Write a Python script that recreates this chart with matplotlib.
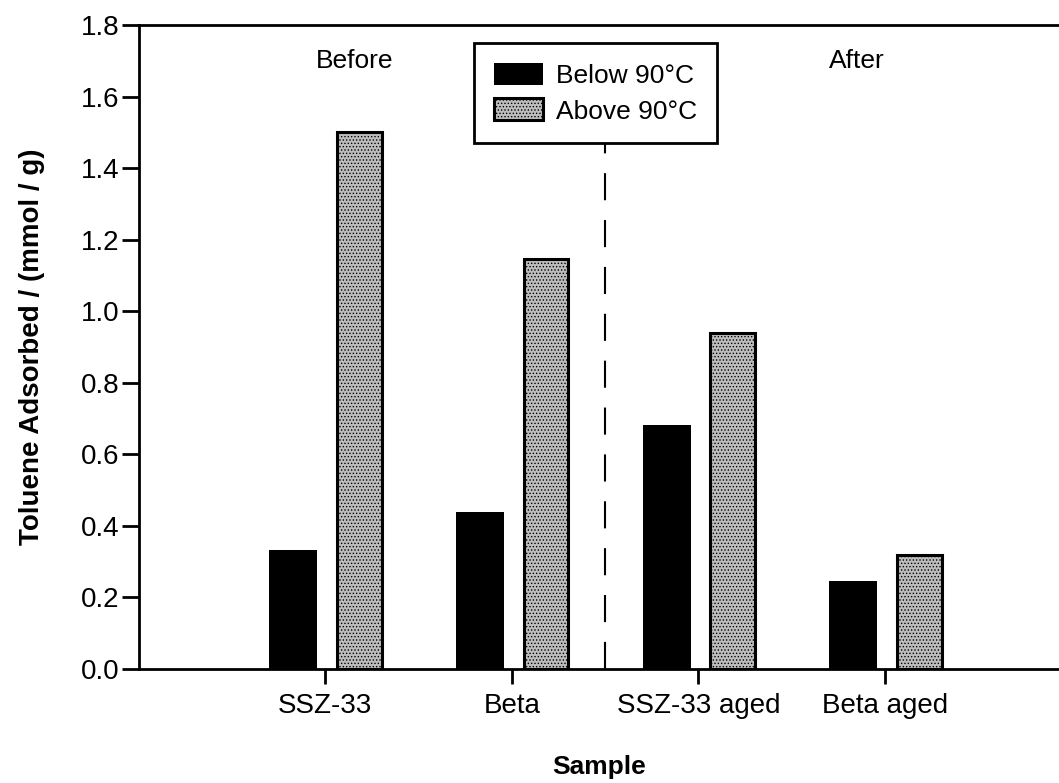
import numpy as np
import matplotlib.pyplot as plt

samples = ["SSZ-33", "Beta", "SSZ-33 aged", "Beta aged"]
below_90 = [0.333, 0.44, 0.682, 0.246]
above_90 = [1.50, 1.145, 0.939, 0.319]
yticks = [0.0, 0.2, 0.4, 0.6, 0.8, 1.0, 1.2, 1.4, 1.6, 1.8]

plt.rcParams['font.family'] = ['Liberation Sans', 'DejaVu Sans']
plt.rcParams['hatch.linewidth'] = 0.6
plt.rcParams['hatch.color'] = '#6e6e6e'

fig = plt.figure(figsize=(10.59, 7.83), dpi=100)
ax = fig.add_axes([0.1313, 0.1456, 0.8687, 0.8224])

x = np.arange(len(samples))
ax.bar(x - 0.171, below_90, width=0.257, color='black', linewidth=0,
       label='Below 90°C')
ax.bar(x + 0.184, above_90, width=0.24, facecolor='#bdbdbd', edgecolor='black',
       linewidth=2.2, hatch='.....', label='Above 90°C')

# divider between fresh and aged samples
ax.axvline(1.5, ymin=0, ymax=0.83, color='black', linestyle=(0, (13, 9.5)), linewidth=1.5)

ax.text(0.16, 1.70, "Before", fontsize=19, ha='center', va='center')
ax.text(2.85, 1.70, "After", fontsize=19, ha='center', va='center')

ax.set_xlim(-0.995, 3.93)
ax.set_ylim(0, 1.8)
ax.set_xticks(x)
ax.set_xticklabels(samples, fontsize=20)
ax.set_yticks(yticks)
ax.set_yticklabels([f"{v:.1f}" for v in yticks], fontsize=20)
ax.tick_params(axis='x', direction='out', length=11, width=2, pad=6)
ax.tick_params(axis='y', direction='out', length=12, width=2, pad=2)

for side in ['left', 'bottom', 'top']:
    ax.spines[side].set_linewidth(2)
ax.spines['right'].set_visible(False)

ax.set_ylabel("Toluene Adsorbed / (mmol / g)", fontsize=20, fontweight='bold', labelpad=26)
ax.set_xlabel("Sample", fontsize=19, fontweight='bold', labelpad=26)

leg = ax.legend(loc='upper left', bbox_to_anchor=(0.364, 0.972), borderaxespad=0,
                fontsize=19, frameon=True, fancybox=False, edgecolor='black',
                framealpha=1, handlelength=1.85, handleheight=0.9,
                handletextpad=0.5, borderpad=0.75, labelspacing=0.4)
leg.get_frame().set_linewidth(2)

fig.savefig("out.png", dpi=100)
